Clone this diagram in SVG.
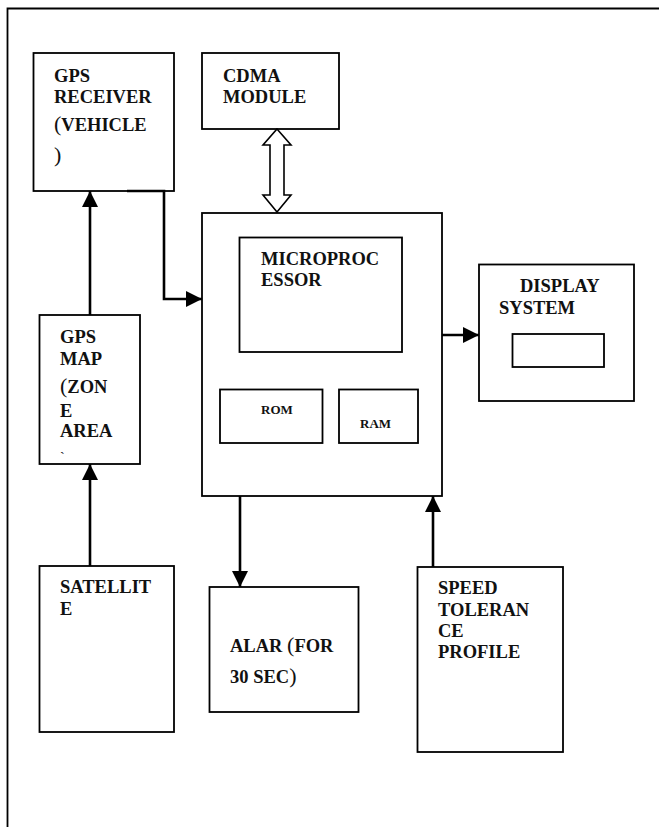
<svg xmlns="http://www.w3.org/2000/svg" width="659" height="827" viewBox="0 0 659 827">
<style>
.box{fill:#fff;stroke:#000;stroke-width:1.8}
.t{font-family:"Liberation Serif","Times New Roman",serif;font-weight:bold;font-size:18.5px;fill:#111}
.s{font-size:13px}
.p{font-size:22px;font-weight:normal}
.c{fill:none;stroke:#000;stroke-width:2.6}
</style>
<defs>
<marker id="ah" viewBox="0 0 16 16" refX="16" refY="8" markerWidth="16" markerHeight="16" markerUnits="userSpaceOnUse" orient="auto">
<path d="M0,0 L16,8 L0,16 Z" fill="#000"/>
</marker>
</defs>
<rect width="659" height="827" fill="#fff"/>
<path d="M659,8.5 H7.5 V827" fill="none" stroke="#000" stroke-width="1.8"/>

<g id="gps-receiver">
<rect class="box" x="33.5" y="53" width="140.5" height="138"/>
<text class="t" x="54" y="82">GPS</text>
<text class="t" x="54" y="103">RECEIVER</text>
<text class="t" x="54" y="131"><tspan class="p">(</tspan>VEHICLE</text>
<text class="t" x="54" y="162"><tspan class="p">)</tspan></text>
</g>

<g id="cdma">
<rect class="box" x="202" y="53" width="137" height="76"/>
<text class="t" x="223" y="82">CDMA</text>
<text class="t" x="223" y="103">MODULE</text>
</g>

<g id="main">
<rect class="box" x="202" y="213" width="240" height="283"/>
</g>

<g id="microprocessor">
<rect class="box" x="239.5" y="237.5" width="162.5" height="114.5"/>
<text class="t" x="261" y="265">MICROPROC</text>
<text class="t" x="261" y="286">ESSOR</text>
</g>

<g id="rom">
<rect class="box" x="220" y="389.5" width="102.5" height="53.5"/>
<text class="t s" x="261" y="414">ROM</text>
</g>

<g id="ram">
<rect class="box" x="339" y="389.5" width="79" height="53.5"/>
<text class="t s" x="360" y="428">RAM</text>
</g>

<g id="display">
<rect class="box" x="479" y="264.5" width="155" height="136.5"/>
<rect class="box" x="512.5" y="334" width="91.5" height="33"/>
<text class="t" x="520" y="292">DISPLAY</text>
<text class="t" x="499" y="314">SYSTEM</text>
</g>

<g id="gps-map">
<rect class="box" x="39.5" y="315" width="100.5" height="149"/>
<text class="t" x="60" y="343">GPS</text>
<text class="t" x="60" y="365">MAP</text>
<text class="t" x="60" y="393"><tspan class="p">(</tspan>ZON</text>
<text class="t" x="60" y="417">E</text>
<text class="t" x="60" y="437">AREA</text>
<text class="t" x="60" y="462" style="font-weight:normal;font-size:14px">`</text>
</g>

<g id="satellite">
<rect class="box" x="39.5" y="566" width="134.5" height="166"/>
<text class="t" x="60" y="593">SATELLIT</text>
<text class="t" x="60" y="615">E</text>
</g>

<g id="alarm">
<rect class="box" x="209.5" y="587" width="149" height="125"/>
<text class="t" x="230" y="652">ALAR <tspan class="p">(</tspan>FOR</text>
<text class="t" x="230" y="683">30 SEC<tspan class="p">)</tspan></text>
</g>

<g id="speed">
<rect class="box" x="417.5" y="567" width="145.5" height="185"/>
<text class="t" x="438" y="594">SPEED</text>
<text class="t" x="438" y="616">TOLERAN</text>
<text class="t" x="438" y="637">CE</text>
<text class="t" x="438" y="658">PROFILE</text>
</g>

<g id="connectors">
<path class="c" d="M127,191 H164 V299 H202" marker-end="url(#ah)"/>
<path class="c" d="M90,315 V191" marker-end="url(#ah)"/>
<path class="c" d="M90,566 V464" marker-end="url(#ah)"/>
<path class="c" d="M442,335 H479" marker-end="url(#ah)"/>
<path class="c" d="M240,496 V587" marker-end="url(#ah)"/>
<path class="c" d="M433,567 V496" marker-end="url(#ah)"/>
<path d="M277,129 L291,145 L284,145 L284,195 L291,195 L277,212 L263,195 L270,195 L270,145 L263,145 Z" fill="#fff" stroke="#000" stroke-width="1.6" stroke-linejoin="miter"/>
</g>
</svg>
